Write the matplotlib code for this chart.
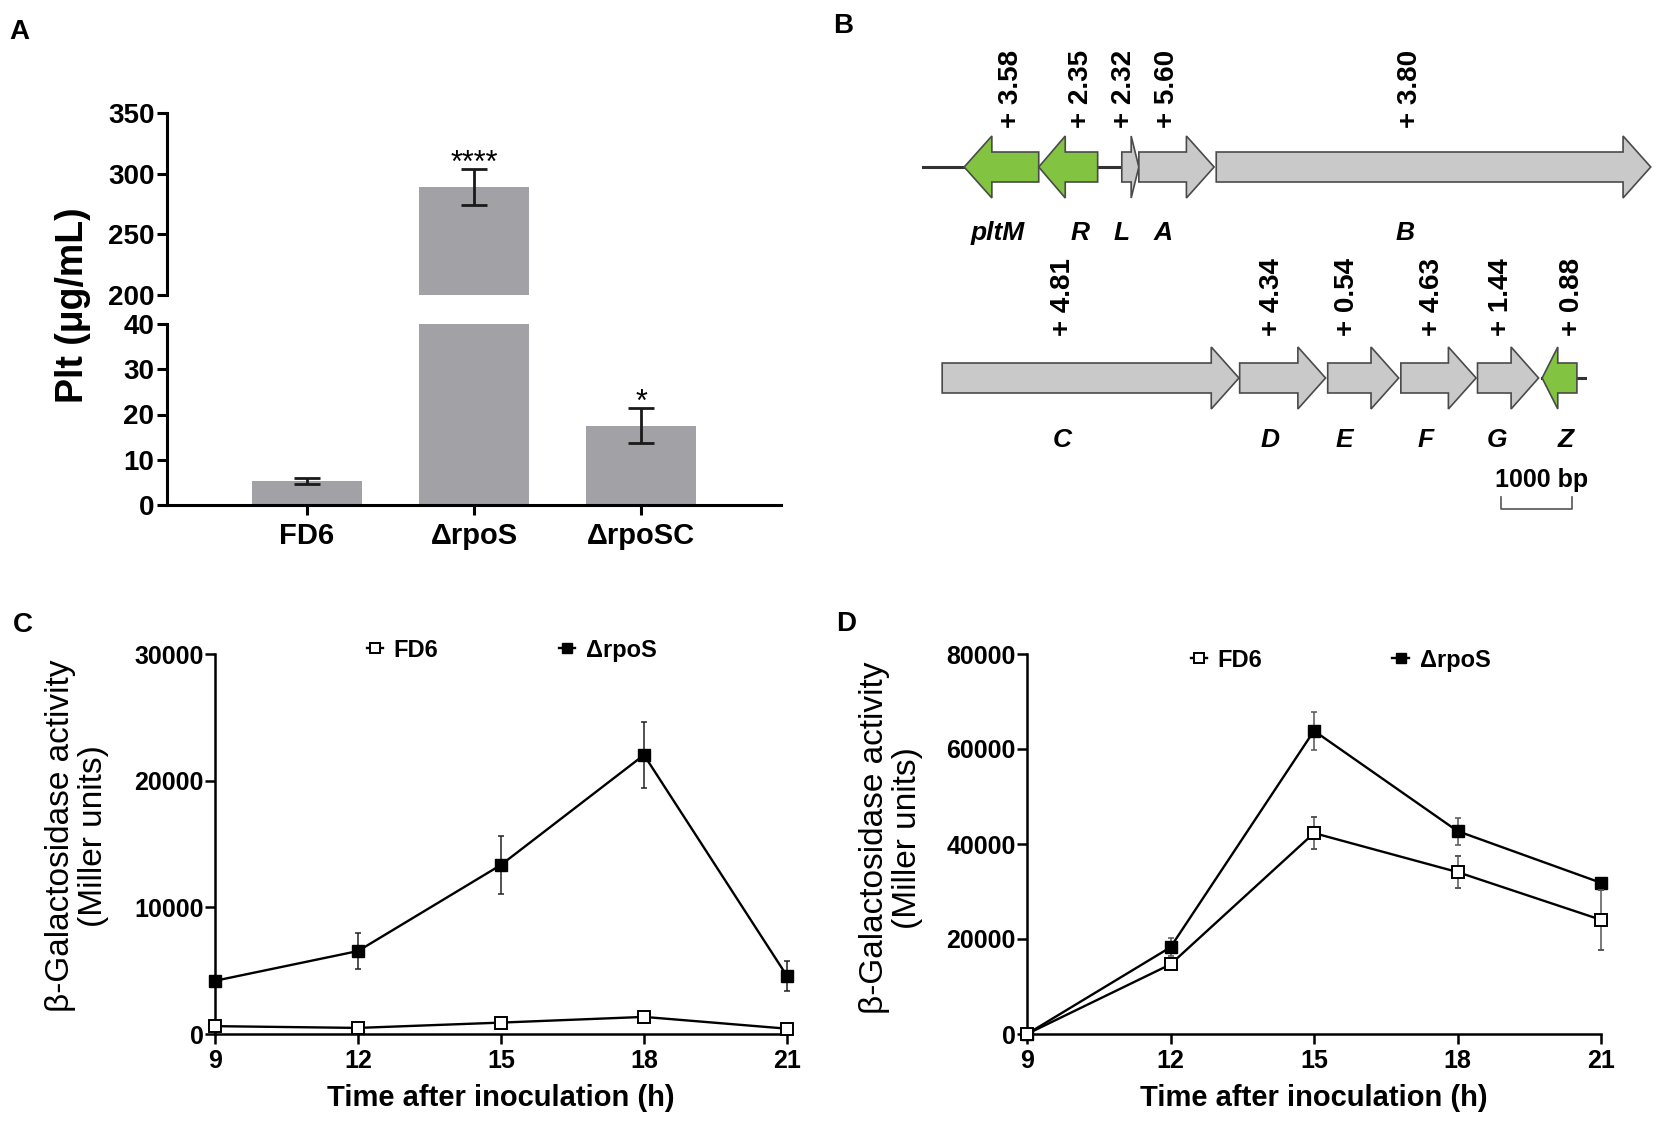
import matplotlib
matplotlib.use('Agg')
import matplotlib.pyplot as plt
from matplotlib.patches import Polygon
import numpy as np

plt.rcParams['font.family'] = ['Liberation Sans', 'DejaVu Sans']
plt.rcParams['font.weight'] = 'bold'
plt.rcParams['axes.labelweight'] = 'bold'

# ---------------- data ----------------
# Panel A
strains = ['FD6', 'ΔrpoS', 'ΔrpoSC']
plt_mean = [5.3, 289, 17.5]
plt_err = [0.6, 15, 3.9]
signif = ['', '****', '*']

# Panels C, D
time_h = [9, 12, 15, 18, 21]
C_fd6 = [620, 480, 900, 1350, 420]
C_fd6_err = [150, 100, 150, 200, 100]
C_rpoS = [4200, 6550, 13350, 22030, 4580]
C_rpoS_err = [200, 1430, 2290, 2620, 1220]

D_fd6 = [0, 14660, 42300, 34090, 24040]
D_fd6_err = [200, 800, 3450, 3350, 6370]
D_rpoS = [0, 18260, 63830, 42720, 31830]
D_rpoS_err = [200, 1880, 3980, 2850, 800]

# Panel B gene map (bp along each displayed row)
row1_names = ['pltM', 'R', 'L', 'A', 'B']
row1_start = [580, 1630, 2800, 3040, 4130]
row1_end = [1630, 2460, 3040, 4100, 10250]
row1_strand = [-1, -1, 1, 1, 1]
row1_fold = ['3.58', '2.35', '2.32', '5.60', '3.80']

row2_names = ['C', 'D', 'E', 'F', 'G', 'Z']
row2_start = [270, 4460, 5700, 6730, 7810, 8720]
row2_end = [4450, 5670, 6700, 7790, 8670, 9210]
row2_strand = [1, 1, 1, 1, 1, -1]
row2_fold = ['4.81', '4.34', '0.54', '4.63', '1.44', '0.88']
scale_bp = 1000

# ---------------- layout helpers ----------------
W, H = 1654, 1125
fig = plt.figure(figsize=(W / 100, H / 100), dpi=100)


def rect(x0, y0, x1, y1):
    return [x0 / W, 1 - y1 / H, (x1 - x0) / W, (y1 - y0) / H]


def ftext(x, y, s, **kw):
    fig.text(x / W, 1 - y / H, s, **kw)


BAR = '#a2a2a6'
GREEN = '#82c341'
GREY = '#c9c9c9'
EDGE = '#4a4a4a'

# ---------------- Panel A ----------------
ftext(19, 32, 'A', fontsize=20, ha='center', va='center')
axAt = fig.add_axes(rect(167, 113, 781, 295))
axAb = fig.add_axes(rect(167, 324, 781, 505))
xA = np.arange(len(strains))
for ax in (axAt, axAb):
    ax.bar(xA, plt_mean, width=0.66, color=BAR, zorder=1)
    ax.errorbar(xA, plt_mean, yerr=plt_err, fmt='none', ecolor='#1a1a1a',
                elinewidth=2.0, capsize=9.5, capthick=2.0, zorder=3)
    ax.set_xlim(-0.838, 2.838)
    for s in ('top', 'right'):
        ax.spines[s].set_visible(False)
    ax.spines['left'].set_linewidth(2.2)
    ax.tick_params(axis='y', direction='out', length=7, width=2.2,
                   labelsize=20, pad=2)
    for i, s in enumerate(signif):
        if s:
            ax.annotate(s, xy=(i, plt_mean[i] + plt_err[i]), xytext=(0, -2),
                        textcoords='offset points', ha='center', va='baseline',
                        fontsize=22, fontweight='normal')
axAt.set_ylim(200, 350)
axAt.set_yticks([200, 250, 300, 350])
axAt.spines['bottom'].set_visible(False)
axAt.tick_params(axis='x', bottom=False, labelbottom=False)
axAb.set_ylim(0, 40)
axAb.set_yticks([0, 10, 20, 30, 40])
axAb.spines['bottom'].set_linewidth(2.2)
axAb.set_xticks(xA)
axAb.set_xticklabels(strains)
axAb.tick_params(axis='x', direction='out', length=7, width=2.2,
                 labelsize=21, pad=5)
ftext(73, 305, 'Plt (μg/mL)', fontsize=27, rotation=90, ha='center', va='center')

# ---------------- Panel B ----------------
ftext(843, 26, 'B', fontsize=20, ha='center', va='center')
BP_PER_PX = 1000 / 71.0


def bp(px):
    return (px - 923) * BP_PER_PX


axB = fig.add_axes(rect(800, 0, 1654, 560))
axB.set_xlim(bp(800), bp(1654))
axB.set_ylim(560, 0)
axB.axis('off')

BODY, HEAD = 15, 31
HEAD_BP = 390


def gene(ax, s, e, strand, yc):
    L = e - s
    hl = min(HEAD_BP, 0.45 * L)
    if strand > 0:
        xb = e - hl
        pts = [(s, yc - BODY), (xb, yc - BODY), (xb, yc - HEAD), (e, yc),
               (xb, yc + HEAD), (xb, yc + BODY), (s, yc + BODY)]
    else:
        xb = s + hl
        pts = [(e, yc - BODY), (xb, yc - BODY), (xb, yc - HEAD), (s, yc),
               (xb, yc + HEAD), (xb, yc + BODY), (e, yc + BODY)]
    ax.add_patch(Polygon(pts, closed=True, facecolor=GREEN if strand < 0 else GREY,
                         edgecolor=EDGE, linewidth=1.2, zorder=3))


row1_y, row2_y = 167, 378
axB.plot([0, row1_start[2]], [row1_y, row1_y], color='#333333', lw=2.2, zorder=1)
axB.plot([row2_start[5], bp(1585)], [row2_y, row2_y], color='#333333', lw=2.2, zorder=1)

row1_lab_px = [1011, 1081, 1124, 1167, 1410]
row1_name_px = [998, 1080, 1122, 1163, 1405]
row2_lab_px = [1063, 1272, 1347, 1432, 1501, 1572]
row2_name_px = [1062, 1270, 1344, 1426, 1497, 1566]

for i in range(len(row1_names)):
    gene(axB, row1_start[i], row1_end[i], row1_strand[i], row1_y)
    axB.text(bp(row1_lab_px[i]), 128, '+ ' + row1_fold[i], rotation=90,
             ha='center', va='bottom', fontsize=20)
    axB.text(bp(row1_name_px[i]), 233, row1_names[i], style='italic',
             ha='center', va='center', fontsize=19)
for i in range(len(row2_names)):
    gene(axB, row2_start[i], row2_end[i], row2_strand[i], row2_y)
    axB.text(bp(row2_lab_px[i]), 336, '+ ' + row2_fold[i], rotation=90,
             ha='center', va='bottom', fontsize=20)
    axB.text(bp(row2_name_px[i]), 440, row2_names[i], style='italic',
             ha='center', va='center', fontsize=19)

sb0 = bp(1500.6)
axB.plot([sb0, sb0, sb0 + scale_bp, sb0 + scale_bp], [497, 509, 509, 497],
         color='#555555', lw=1.2)
axB.text(bp(1542), 480, f'{scale_bp} bp', ha='center', va='center', fontsize=18)


# ---------------- Panels C & D ----------------
def line_panel(r, ylim, yticks, fd6, fd6e, rpo, rpoe, ecol, anchor, colsp):
    ax = fig.add_axes(r)
    e1 = ax.errorbar(time_h, rpo, yerr=rpoe, fmt='-s', color='k', ms=8.5,
                     mfc='k', mec='k', lw=1.7, ecolor=ecol, elinewidth=1.1,
                     capsize=2.3, capthick=1.1, zorder=3)
    e2 = ax.errorbar(time_h, fd6, yerr=fd6e, fmt='-s', color='k', ms=8.5,
                     mfc='white', mec='k', mew=1.4, lw=1.7, ecolor=ecol,
                     elinewidth=1.1, capsize=2.3, capthick=1.1, zorder=4)
    for c in (e1, e2):
        for art in c.get_children():
            art.set_clip_on(False)
    ax.set_xlim(9, 21)
    ax.set_ylim(*ylim)
    for s in ('top', 'right'):
        ax.spines[s].set_visible(False)
    for s in ('left', 'bottom'):
        ax.spines[s].set_linewidth(1.8)
    ax.set_xticks(time_h)
    ax.set_yticks(yticks)
    ax.tick_params(axis='y', direction='out', length=7, width=1.8,
                   labelsize=18, pad=1)
    ax.tick_params(axis='x', direction='out', length=7, width=1.8,
                   labelsize=18, pad=4)
    ax.set_xlabel('Time after inoculation (h)', fontsize=21, fontweight='bold',
                  labelpad=8)
    ax.legend([e2[0], e1[0]], ['FD6', 'ΔrpoS'], ncol=2, loc='center left',
              bbox_to_anchor=anchor, frameon=False, borderpad=0,
              borderaxespad=0, handlelength=0.7, handletextpad=0.45,
              columnspacing=colsp, markerscale=0.8,
              prop={'size': 17, 'weight': 'bold'})
    return ax


ftext(23, 625, 'C', fontsize=20, ha='center', va='center')
line_panel(rect(215, 654, 787, 1034), (0, 30000), [0, 10000, 20000, 30000],
           C_fd6, C_fd6_err, C_rpoS, C_rpoS_err, '#222222', (0.265, 1.01), 5.1)
ftext(77, 836, 'β-Galactosidase activity\n(Miller units)', fontsize=24,
      fontweight='normal', rotation=90, ha='center', va='center',
      multialignment='center', linespacing=1.1)

ftext(846, 624, 'D', fontsize=20, ha='center', va='center')
line_panel(rect(1027, 654, 1601, 1034), (0, 80000),
           [0, 20000, 40000, 60000, 80000],
           D_fd6, D_fd6_err, D_rpoS, D_rpoS_err, '#555555', (0.285, 0.984), 5.5)
ftext(891, 838, 'β-Galactosidase activity\n(Miller units)', fontsize=24,
      fontweight='normal', rotation=90, ha='center', va='center',
      multialignment='center', linespacing=1.1)

fig.savefig('out.png', dpi=100)
